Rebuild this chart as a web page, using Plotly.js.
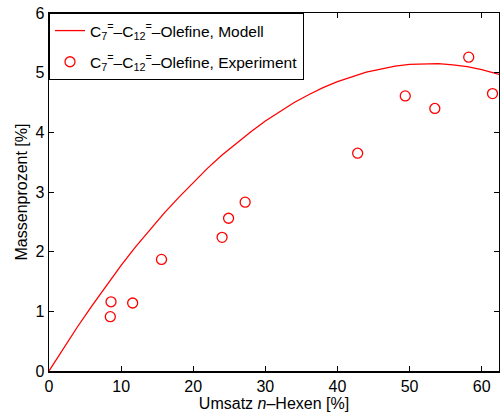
<!DOCTYPE html>
<html>
<head>
<meta charset="utf-8">
<script src="https://cdn.plot.ly/plotly-3.0.1.min.js"></script>
<style>html,body{margin:0;padding:0;background:#fff;}#chart{width:500px;height:412px;}</style>
</head>
<body>
<div id="chart"></div>
<script>
// Model curve
const modelX = [0, 2, 4, 6, 8, 10, 12, 14, 16, 18, 20, 22, 24, 26, 28, 30, 32, 34, 36, 38, 40, 42, 44, 46, 48, 50, 52, 54, 56, 58, 60, 62, 64];
const modelY = [0, 0.38, 0.75, 1.10, 1.44, 1.77, 2.08, 2.37, 2.65, 2.91, 3.16, 3.40, 3.62, 3.82, 4.01, 4.19, 4.35, 4.50, 4.63, 4.75, 4.85, 4.93, 5.01, 5.06, 5.11, 5.14, 5.15, 5.15, 5.13, 5.10, 5.05, 4.99, 4.92];
// Experimental points
const expX = [8.6, 8.5, 11.6, 15.6, 24.0, 24.9, 27.2, 42.8, 49.4, 53.5, 58.2, 61.5];
const expY = [1.16, 0.91, 1.14, 1.87, 2.24, 2.56, 2.83, 3.65, 4.61, 4.40, 5.26, 4.65];
const xTicks = [0, 10, 20, 30, 40, 50, 60];
const yTicks = [0, 1, 2, 3, 4, 5, 6];
const nameModel = "C<sub>7</sub><sup>=</sup>–C<sub>12</sub><sup>=</sup>–Olefine, Modell";
const nameExp = "C<sub>7</sub><sup>=</sup>–C<sub>12</sub><sup>=</sup>–Olefine, Experiment";

const font = {family: "Liberation Sans, Arial, sans-serif", size: 16, color: "#000"};
const legFont = {family: "Liberation Sans, Arial, sans-serif", size: 15.5, color: "#000"};
const data = [
  {x: modelX, y: modelY, mode: "lines", name: nameModel, legendgroup: "a", line: {color: "#ff0000", width: 1.3}},
  {x: expX, y: expY, mode: "markers", name: nameExp, legendgroup: "b",
   marker: {symbol: "circle-open", size: 10, color: "#ff0000", line: {width: 1.3, color: "#ff0000"}}}
];
const axisCommon = {showline: true, linecolor: "#000", linewidth: 1.5, mirror: "ticks", ticks: "inside", ticklen: 5, tickcolor: "#000", tickwidth: 1, showgrid: false, zeroline: false, tickfont: font};
const layout = {
  width: 500, height: 412,
  margin: {l: 49, r: 1, t: 13, b: 41, pad: 0},
  paper_bgcolor: "#fff", plot_bgcolor: "#fff",
  font: font,
  showlegend: true,
  legend: {x: 0, y: 1, xanchor: "left", yanchor: "top", bgcolor: "#fff", bordercolor: "#000", borderwidth: 1, font: legFont, tracegroupgap: 8, itemwidth: 30},
  xaxis: Object.assign({}, axisCommon, {range: [0, 62.4], tickvals: xTicks, title: {text: "Umsatz <i>n</i>–Hexen [%]", font: font, standoff: 0}}),
  yaxis: Object.assign({}, axisCommon, {range: [0, 6], tickvals: yTicks, title: {text: "Massenprozent [%]", font: font, standoff: 4}})
};
Plotly.newPlot("chart", data, layout, {staticPlot: true});
</script>
</body>
</html>
